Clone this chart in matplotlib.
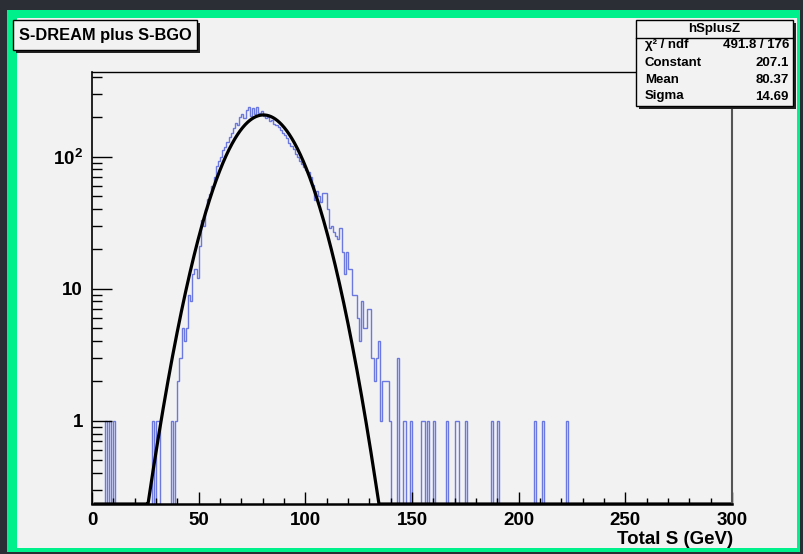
import matplotlib.pyplot as plt
import numpy as np
from matplotlib.patches import Rectangle
from matplotlib.ticker import FixedLocator, FuncFormatter, MultipleLocator, NullFormatter

plt.rcParams['font.family'] = ['Liberation Sans', 'DejaVu Sans']
plt.rcParams['mathtext.fontset'] = 'custom'
plt.rcParams['mathtext.rm'] = 'Liberation Sans'
plt.rcParams['mathtext.bf'] = 'Liberation Sans:bold'

# hSplusZ histogram, 1 GeV bins over 0-300, only the filled bins are listed
bin_low = [6, 8, 10, 28, 30, 31, 37, 39,
           40, 41, 42, 43, 44, 45, 46, 47, 48, 49,
           50, 51, 52, 53, 54, 55, 56, 57, 58, 59,
           60, 61, 62, 63, 64, 65, 66, 67, 68, 69,
           70, 71, 72, 73, 74, 75, 76, 77, 78, 79,
           80, 81, 82, 83, 84, 85, 86, 87, 88, 89,
           90, 91, 92, 93, 94, 95, 96, 97, 98, 99,
           100, 101, 102, 103, 104, 105, 106, 107, 108, 109,
           110, 111, 112, 113, 114, 115, 116, 117, 118, 119,
           120, 121, 122, 123, 124, 125, 126, 127, 128, 129,
           130, 131, 132, 133, 134, 135, 136, 137, 138, 139,
           143, 146, 149, 154, 155, 157, 160, 166, 170, 171,
           175, 187, 190, 207, 211, 222]
bin_count = [1, 1, 1, 1, 1, 1, 1, 1,
             2, 3, 5, 4, 5, 9, 8, 13, 14, 12,
             21, 33, 30, 40, 48, 52, 60, 70, 85, 92,
             100, 113, 118, 130, 142, 150, 165, 181, 175, 200,
             209, 195, 225, 236, 205, 232, 210, 236, 215, 222,
             205, 198, 200, 185, 190, 178, 175, 168, 160, 150,
             145, 139, 128, 120, 115, 105, 100, 92, 88, 84,
             79, 76, 70, 61, 47, 55, 50, 45, 53, 53,
             40, 29, 30, 27, 25, 24, 29, 19, 13, 19,
             14, 14, 9, 9, 6, 4, 8, 5, 5, 7,
             7, 3, 2, 3, 4, 1, 2, 2, 2, 1,
             3, 1, 1, 1, 1, 1, 1, 1, 1, 1,
             1, 1, 1, 1, 1, 1]

# gaussian fit results from the stats box
fit_const = 207.1
fit_mean = 80.37
fit_sigma = 14.69
chi2_ndf = '491.8 / 176'

W, H = 804, 554
bg = '#2b2e35'
green = '#00f08c'
canvas = '#f2f2f2'
blue = '#6a78e0'


def fx(x):
    return x / W


def fy(y):
    return 1 - y / H


def box(x0, y0, x1, y1, **kw):
    fig.patches.append(Rectangle((fx(x0), fy(y1)), fx(x1) - fx(x0), fy(y0) - fy(y1),
                                 transform=fig.transFigure, **kw))


fig = plt.figure(figsize=(W / 100, H / 100), dpi=100, facecolor=bg)
box(7, 10, 800, 552, facecolor=green, edgecolor='none', zorder=-3)
box(17, 18, 797, 548, facecolor=canvas, edgecolor='none', zorder=-2)

ax = fig.add_axes([fx(92), fy(504), fx(640), 432 / H])
ax.set_facecolor(canvas)

edges = np.arange(0, 301)
counts = np.zeros(300)
counts[bin_low] = bin_count
ax.stairs(np.where(counts > 0, counts, 1e-3), edges, baseline=None, color=blue, lw=1.0)

ymin, ymax = 0.234, 438
xs = np.linspace(1.5, 300, 1500)
ys = fit_const * np.exp(-0.5 * ((xs - fit_mean) / fit_sigma) ** 2)
ax.plot(xs, np.maximum(ys, ymin), color='black', lw=2.3)

ax.set_yscale('log')
ax.set_xlim(0, 300)
ax.set_ylim(ymin, ymax)

ax.xaxis.set_major_locator(MultipleLocator(50))
ax.xaxis.set_minor_locator(MultipleLocator(10))
ax.yaxis.set_major_locator(FixedLocator([1, 10, 100]))
minors = [m * d for d in (0.1, 1, 10, 100) for m in range(2, 10)]
ax.yaxis.set_minor_locator(FixedLocator([v for v in minors if ymin < v < ymax]))
ax.yaxis.set_minor_formatter(NullFormatter())
ax.yaxis.set_major_formatter(FuncFormatter(
    lambda v, p: {1: '1', 10: '10', 100: r'$\mathbf{10^{2}}$'}.get(round(v), '')))

ax.tick_params(axis='x', which='major', direction='in', length=8.6, width=1, pad=5.5,
               labelsize=13.5)
ax.tick_params(axis='x', which='minor', direction='in', length=4.3, width=1)
ax.tick_params(axis='y', which='major', direction='in', length=14.4, width=1, pad=6.5,
               labelsize=13.5)
ax.tick_params(axis='y', which='minor', direction='in', length=7.2, width=1)
for lab in ax.get_xticklabels() + ax.get_yticklabels():
    lab.set_fontweight('bold')

ax.spines['left'].set_linewidth(1.2)
ax.spines['bottom'].set_linewidth(1.8)
ax.spines['top'].set_linewidth(1)
ax.spines['right'].set_color('#555555')
ax.spines['right'].set_linewidth(1.5)

fig.text(fx(733), fy(540), 'Total S (GeV)', ha='right', va='center', fontsize=13.5,
         fontweight='bold')

# title box with shadow
box(16, 23, 200, 53, facecolor='#222222', edgecolor='none', zorder=2)
box(13, 20, 197, 50, facecolor=canvas, edgecolor='black', lw=1, zorder=2)
fig.text(fx(105), fy(35.5), 'S-DREAM plus S-BGO', ha='center', va='center',
         fontsize=11.8, fontweight='bold', zorder=4)

# stats box with shadow
box(639, 23, 796, 109, facecolor='#222222', edgecolor='none', zorder=2)
box(636, 20, 793, 106, facecolor=canvas, edgecolor='black', lw=1, zorder=2)
fig.lines.append(plt.Line2D([fx(636), fx(793)], [fy(38), fy(38)], color='black', lw=1,
                            transform=fig.transFigure, zorder=3))
fig.text(fx(714), fy(29), 'hSplusZ', ha='center', va='center', fontsize=9.5,
         fontweight='bold', zorder=4)
rows = [('χ² / ndf', chi2_ndf), ('Constant', f'{fit_const:.1f}'),
        ('Mean', f'{fit_mean:.2f}'), ('Sigma', f'{fit_sigma:.2f}')]
for (name, val), yy in zip(rows, [45, 62.5, 80, 96.5]):
    fig.text(fx(645), fy(yy), name, ha='left', va='center', fontsize=9.5,
             fontweight='bold', zorder=4)
    fig.text(fx(789), fy(yy), val, ha='right', va='center', fontsize=9.5,
             fontweight='bold', zorder=4)

fig.savefig('out.png', dpi=100, facecolor=bg)
